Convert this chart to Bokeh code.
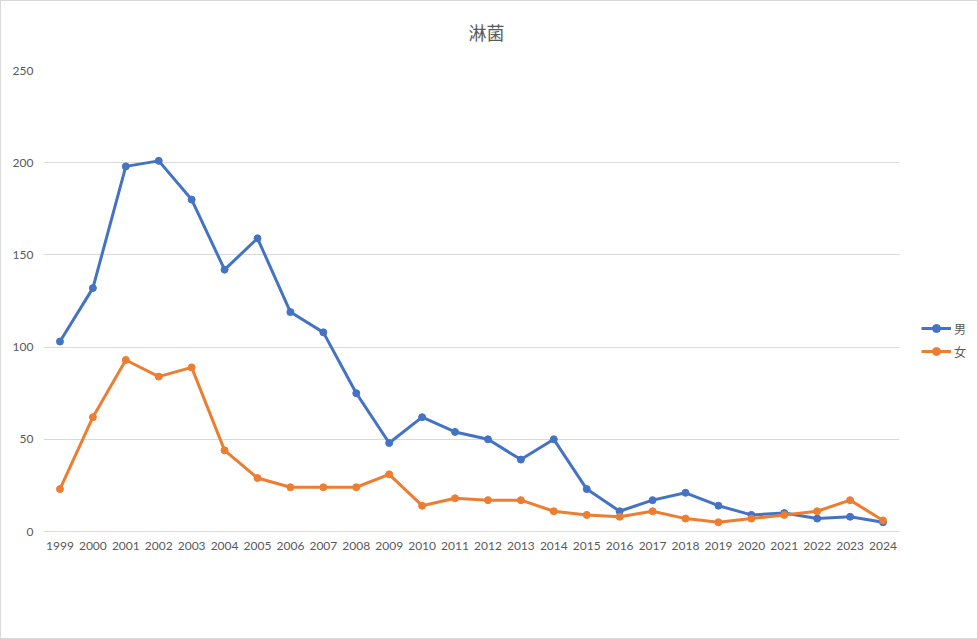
from bokeh.plotting import figure
from bokeh.models import ColumnDataSource, FactorRange, Range1d, Legend, LegendItem, FixedTicker, Title
from bokeh.embed import file_html
from bokeh.resources import INLINE

years = [str(y) for y in range(1999, 2025)]
male = [103, 132, 198, 201, 180, 142, 159, 119, 108, 75, 48, 62, 54, 50, 39, 50,
        23, 11, 17, 21, 14, 9, 10, 7, 8, 5]
female = [23, 62, 93, 84, 89, 44, 29, 24, 24, 24, 31, 14, 18, 17, 17, 11,
          9, 8, 11, 7, 5, 7, 9, 11, 17, 6]
y_ticks = [0, 50, 100, 150, 200, 250]
title_text = "淋菌"
series_names = ["男", "女"]

BLUE = "#4472C4"
ORANGE = "#ED7D31"
GREY = "#595959"
FONT = "Lato"

src = ColumnDataSource(dict(year=years, male=male, female=female))

p = figure(title=None, frame_width=856, frame_height=461, output_backend="svg", toolbar_location=None,
           x_range=FactorRange(*years), y_range=Range1d(0, 250),
           min_border_left=42, min_border_right=77, min_border_top=69, min_border_bottom=107)
p.x_range.range_padding = 0
p.outline_line_color = None
p.background_fill_color = "white"
p.border_fill_color = "white"
p.styles = {"border": "1px solid #d9d9d9"}

# spacer between frame and title (closest to frame), then the title itself
p.add_layout(Title(text=" ", text_font_size="2px", standoff=22), "above")
p.add_layout(Title(text=title_text, align="left", offset=425, standoff=0,
                   text_font="Noto Sans CJK JP", text_font_size="18px",
                   text_font_style="normal", text_color=GREY), "above")

r1 = p.line("year", "male", source=src, line_color=BLUE, line_width=3)
c1 = p.scatter("year", "male", source=src, size=7, fill_color=BLUE, line_color=BLUE)
r2 = p.line("year", "female", source=src, line_color=ORANGE, line_width=3)
c2 = p.scatter("year", "female", source=src, size=7, fill_color=ORANGE, line_color=ORANGE)

p.xgrid.grid_line_color = None
p.ygrid.grid_line_color = "#d9d9d9"
p.ygrid.grid_line_width = 1

p.yaxis.ticker = FixedTicker(ticks=y_ticks)
p.yaxis.axis_line_color = None
p.yaxis.major_tick_line_color = None
p.yaxis.minor_tick_line_color = None
p.yaxis.major_tick_out = 0
p.yaxis.major_label_standoff = 10
p.xaxis.axis_line_color = "#d9d9d9"
p.xaxis.major_tick_line_color = None
p.xaxis.minor_tick_line_color = None
p.xaxis.major_label_standoff = 4
for ax in (p.xaxis, p.yaxis):
    ax.major_label_text_color = GREY
    ax.major_label_text_font = FONT
    ax.major_label_text_font_size = "12px"

legend = Legend(items=[LegendItem(label=series_names[0], renderers=[r1, c1]),
                       LegendItem(label=series_names[1], renderers=[r2, c2])],
                location=(22, 170), padding=0, margin=0, spacing=3,
                glyph_width=30, glyph_height=20, label_standoff=3,
                label_width=12, label_height=20,
                background_fill_alpha=0, border_line_color=None,
                label_text_color=GREY, label_text_font="Noto Sans CJK JP",
                label_text_font_size="12px")
p.add_layout(legend, "right")

open("out.html", "w").write(file_html(p, INLINE))
